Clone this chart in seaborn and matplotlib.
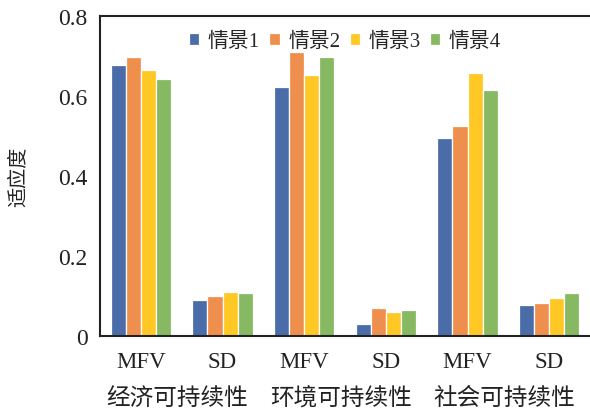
import matplotlib
matplotlib.use("Agg")
import matplotlib.pyplot as plt
import matplotlib.transforms as mtransforms
import seaborn as sns
import pandas as pd

groups = ["经济可持续性", "环境可持续性", "社会可持续性"]
metrics = ["MFV", "SD"]
scenarios = ["情景1", "情景2", "情景3", "情景4"]
colors = ["#4A6CA8", "#EF8F4E", "#FFC825", "#86B962"]

# values per scenario, ordered: econ MFV, econ SD, env MFV, env SD, soc MFV, soc SD
s1 = [0.678, 0.089, 0.622, 0.030, 0.495, 0.078]
s2 = [0.697, 0.101, 0.709, 0.071, 0.524, 0.083]
s3 = [0.664, 0.110, 0.653, 0.060, 0.658, 0.096]
s4 = [0.642, 0.108, 0.698, 0.066, 0.616, 0.108]
yticks = [0, 0.2, 0.4, 0.6, 0.8]
ytick_labels = ["0", "0.2", "0.4", "0.6", "0.8"]
ylabel = "适应度"

sns.set_style("white")
plt.rcParams["font.family"] = ["Liberation Serif", "Noto Sans CJK SC", "DejaVu Sans"]

items = [f"{g}|{m}" for g in groups for m in metrics]
rows = []
for sc, vals in zip(scenarios, [s1, s2, s3, s4]):
    for it, v in zip(items, vals):
        rows.append({"item": it, "scenario": sc, "value": v})
df = pd.DataFrame(rows)

fig = plt.figure(figsize=(5.9, 4.1), dpi=100)
ax = fig.add_axes([0.1695, 0.178, 0.8305, 0.7805])

sns.barplot(data=df, x="item", y="value", hue="scenario", order=items,
            hue_order=scenarios, palette=colors, width=0.74, saturation=1,
            edgecolor="white", linewidth=0.9, ax=ax, legend=True)

ax.set_xlim(-0.5, 5.5)
ax.set_ylim(0, 0.8)
ax.set_yticks(yticks)
ax.set_yticklabels(ytick_labels, fontsize=17)
ax.set_xticks(range(len(items)))
ax.set_xticklabels([it.split("|")[1] for it in items], fontsize=16.5)
ax.tick_params(axis="x", length=0, pad=11)
ax.tick_params(axis="y", direction="out", length=5, width=1.2, color="#222222", pad=4)
ax.set_xlabel("")
ax.set_ylabel(ylabel, fontsize=14.5)
ax.yaxis.set_label_coords(-0.145, 0.5)

for side in ["left", "bottom", "top"]:
    ax.spines[side].set_visible(True)
    ax.spines[side].set_color("#222222")
    ax.spines[side].set_linewidth(1.5)
ax.spines["right"].set_visible(False)

trans = mtransforms.blended_transform_factory(ax.transData, ax.transAxes)
for i, g in enumerate(groups):
    ax.text(2 * i + 0.45, -0.195, g, transform=trans, ha="center", va="center",
            fontsize=17, color="#222222")

handles, labels = ax.get_legend_handles_labels()
ax.legend(handles, labels, loc="upper center", bbox_to_anchor=(0.5, 0.995), ncol=4,
          frameon=False, fontsize=15, handlelength=0.5, handleheight=0.5,
          handletextpad=0.4, columnspacing=0.45, borderaxespad=0.3)

for t in ax.get_xticklabels() + ax.get_yticklabels():
    t.set_color("#222222")
ax.yaxis.label.set_color("#222222")

fig.savefig("out.png", dpi=100)
